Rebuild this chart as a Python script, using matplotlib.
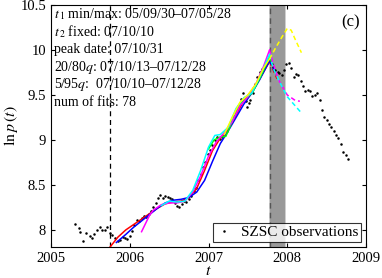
import numpy as np
import matplotlib
matplotlib.use('Agg')
import matplotlib.pyplot as plt

plt.rcParams['font.family'] = ['Liberation Serif', 'DejaVu Serif']
plt.rcParams['mathtext.fontset'] = 'stix'

# SZSC observations (decimal year, ln p)
obs_t = [2005.31, 2005.35, 2005.37, 2005.41, 2005.45, 2005.49, 2005.52, 2005.55, 2005.58, 2005.62,
         2005.65, 2005.68, 2005.71, 2005.75, 2005.78, 2005.81, 2005.85, 2005.88, 2005.91, 2005.94,
         2005.97, 2006.00, 2006.03, 2006.06, 2006.09, 2006.12, 2006.15, 2006.18, 2006.21, 2006.24,
         2006.27, 2006.30, 2006.33, 2006.36, 2006.39, 2006.42, 2006.45, 2006.48, 2006.51, 2006.54,
         2006.57, 2006.60, 2006.63, 2006.66, 2006.69, 2006.72, 2006.75, 2006.78, 2006.81, 2006.84,
         2006.87, 2006.90, 2006.93, 2006.96, 2006.99, 2007.02, 2007.05, 2007.08, 2007.11, 2007.14,
         2007.17, 2007.20, 2007.23, 2007.26, 2007.29, 2007.32, 2007.35, 2007.38, 2007.41, 2007.44,
         2007.47, 2007.49, 2007.51, 2007.53, 2007.56, 2007.59, 2007.62, 2007.65, 2007.68, 2007.71,
         2007.74, 2007.77, 2007.80, 2007.82, 2007.85, 2007.88, 2007.90, 2007.93, 2007.96, 2007.99,
         2008.02, 2008.05, 2008.08, 2008.11, 2008.14, 2008.17, 2008.20, 2008.23, 2008.26, 2008.29,
         2008.32, 2008.35, 2008.38, 2008.41, 2008.44, 2008.47, 2008.50, 2008.53, 2008.56, 2008.59,
         2008.62, 2008.65, 2008.68, 2008.71, 2008.74, 2008.77]
obs_y = [8.07, 8.02, 7.98, 7.88, 7.97, 7.93, 7.91, 7.96, 8.00, 8.03,
         8.00, 8.00, 8.03, 7.97, 7.94, 7.91, 7.88, 7.89, 7.92, 7.91,
         7.90, 7.93, 7.99, 8.06, 8.11, 8.10, 8.13, 8.15, 8.14, 8.18,
         8.21, 8.26, 8.30, 8.36, 8.39, 8.35, 8.38, 8.37, 8.36, 8.34,
         8.30, 8.27, 8.26, 8.29, 8.32, 8.31, 8.34, 8.38, 8.43, 8.47,
         8.55, 8.62, 8.70, 8.76, 8.84, 8.89, 8.94, 9.00, 9.03, 9.01,
         9.03, 9.05, 9.10, 9.16, 9.21, 9.27, 9.32, 9.38, 9.45, 9.52,
         9.43, 9.37, 9.41, 9.44, 9.52, 9.62, 9.70, 9.76, 9.79, 9.82,
         9.86, 9.89, 9.84, 9.81, 9.78, 9.76, 9.74, 9.72, 9.78, 9.84,
         9.86, 9.80, 9.70, 9.73, 9.72, 9.66, 9.60, 9.54, 9.56, 9.54,
         9.49, 9.50, 9.52, 9.44, 9.33, 9.25, 9.22, 9.18, 9.14, 9.10,
         9.06, 9.02, 8.95, 8.87, 8.83, 8.79]

t2 = 2007.775  # 07/10/10
t1_min = 2005.747  # 05/09/30

# fitted curves: (colour, times, values) up to t2, then predicted extension
red_t = [2005.75, 2005.85, 2005.95, 2006.05, 2006.15, 2006.25, 2006.35, 2006.45, 2006.55, 2006.65,
         2006.75, 2006.85, 2006.95, 2007.05, 2007.15, 2007.25, 2007.35, 2007.45, 2007.55, 2007.65, 2007.775]
red_y = [7.81, 7.92, 8.00, 8.06, 8.12, 8.18, 8.24, 8.29, 8.31, 8.32,
         8.36, 8.46, 8.66, 8.88, 9.02, 9.12, 9.28, 9.44, 9.55, 9.68, 9.87]
red_ext_t = [2007.775, 2007.82, 2007.87]
red_ext_y = [9.87, 9.78, 9.68]

blue_t = [2005.83, 2005.95, 2006.05, 2006.15, 2006.25, 2006.35, 2006.45, 2006.55, 2006.65, 2006.75,
          2006.85, 2006.95, 2007.05, 2007.15, 2007.25, 2007.35, 2007.45, 2007.55, 2007.65, 2007.775]
blue_y = [7.86, 7.95, 8.03, 8.10, 8.17, 8.24, 8.30, 8.33, 8.34, 8.36,
          8.42, 8.55, 8.76, 8.96, 9.10, 9.25, 9.40, 9.52, 9.67, 9.88]
blue_ext_t = [2007.775, 2007.82, 2007.86]
blue_ext_y = [9.88, 9.80, 9.72]

mag_t = [2006.15, 2006.20, 2006.25, 2006.30, 2006.40, 2006.50, 2006.60, 2006.70, 2006.80, 2006.90,
         2007.00, 2007.10, 2007.20, 2007.30, 2007.40, 2007.50, 2007.60, 2007.70, 2007.775]
mag_y = [7.98, 8.07, 8.16, 8.22, 8.28, 8.30, 8.30, 8.32, 8.42, 8.60,
         8.82, 8.98, 9.08, 9.20, 9.38, 9.48, 9.62, 9.82, 10.00]
mag_ext_t = [2007.775, 2007.82, 2007.90, 2008.00, 2008.10, 2008.16]
mag_ext_y = [10.00, 9.85, 9.65, 9.50, 9.44, 9.43]

cyan_t = [2006.40, 2006.50, 2006.60, 2006.70, 2006.80, 2006.90, 2007.00, 2007.08, 2007.15, 2007.25,
          2007.35, 2007.45, 2007.55, 2007.65, 2007.775]
cyan_y = [8.27, 8.32, 8.31, 8.32, 8.44, 8.66, 8.92, 9.05, 9.06, 9.14,
          9.35, 9.47, 9.52, 9.70, 9.95]
cyan_ext_t = [2007.775, 2007.82, 2007.90, 2008.00, 2008.08, 2008.18]
cyan_ext_y = [9.95, 9.80, 9.65, 9.48, 9.40, 9.30]

green_t = [2007.00, 2007.07, 2007.14, 2007.22, 2007.30, 2007.40, 2007.48, 2007.56, 2007.66, 2007.775]
green_y = [8.90, 9.00, 9.03, 9.04, 9.20, 9.40, 9.46, 9.53, 9.70, 9.92]
green_ext_t = [2007.775, 2007.82]
green_ext_y = [9.92, 9.82]

yel_t = [2007.20, 2007.30, 2007.40, 2007.50, 2007.60, 2007.70, 2007.775]
yel_y = [9.06, 9.25, 9.42, 9.50, 9.62, 9.80, 9.90]
yel_ext_t = [2007.775, 2007.85, 2007.93, 2008.00, 2008.05, 2008.10, 2008.18]
yel_ext_y = [9.90, 10.02, 10.14, 10.24, 10.22, 10.12, 9.97]

fits = [('red', red_t, red_y, red_ext_t, red_ext_y),
        ('blue', blue_t, blue_y, blue_ext_t, blue_ext_y),
        ('lime', green_t, green_y, green_ext_t, green_ext_y),
        ('magenta', mag_t, mag_y, mag_ext_t, mag_ext_y),
        ('cyan', cyan_t, cyan_y, cyan_ext_t, cyan_ext_y),
        ('yellow', yel_t, yel_y, yel_ext_t, yel_ext_y)]

band_5_95 = (2007.773, 2007.986)
band_20_80 = (2007.781, 2007.975)

fig = plt.figure(figsize=(3.82, 2.78), dpi=100)
ax = fig.add_axes([51/382, 31/278, 315/382, 242/278])

ax.axvspan(*band_5_95, color='#cfcfcf', lw=0, zorder=1)
ax.axvspan(*band_20_80, color='#999999', lw=0, zorder=1)
ax.axvline(t1_min, color='k', ls='--', lw=0.9, dashes=(4, 3), zorder=2)
ax.axvline(t2, color='#555555', ls='--', lw=1.0, dashes=(4, 3), zorder=2)

ax.plot(obs_t, obs_y, 'k.', ms=1.6, zorder=3, label='SZSC observations')
for c, ft, fy, et, ey in fits:
    ax.plot(ft, fy, color=c, lw=1.1, zorder=4)
    ax.plot(et, ey, color=c, lw=1.1, ls='--', dashes=(3, 2), zorder=4)

ax.set_xlim(2005, 2009)
ax.set_ylim(7.81, 10.5)
ax.set_xticks([2005, 2006, 2007, 2008, 2009])
ax.set_yticks([8, 8.5, 9, 9.5, 10, 10.5])
ax.set_yticklabels(['8', '8.5', '9', '9.5', '10', '10.5'])
ax.tick_params(direction='in', top=True, right=True, labelsize=10.5, length=3)
ax.set_xlabel('$t$', fontsize=11.5, labelpad=-1.5)
ax.set_ylabel(r'$\ln p\,(t)$', fontsize=11.5, labelpad=0)

lines = ['$t_{\\,1}$ min/max: 05/09/30\u201307/05/28',
         '$t_{\\,2}$ fixed: 07/10/10',
         'peak date: 07/10/31',
         '20/80$q$: 07/10/13\u201307/12/28',
         '5/95$q$:  07/10/10\u201307/12/28',
         'num of fits: 78']
for i, s in enumerate(lines):
    ax.text(0.008, 0.962 - i * 0.073, s, transform=ax.transAxes, fontsize=10, va='center', ha='left')
ax.text(0.95, 0.93, '(c)', transform=ax.transAxes, fontsize=12, ha='center', va='center')

leg = ax.legend(loc='lower right', fontsize=11, frameon=True, fancybox=False, edgecolor='k',
                borderaxespad=0.3, handlelength=1.0, handletextpad=0.6, borderpad=0.2, markerscale=1)
leg.get_frame().set_linewidth(0.8)
leg.set_zorder(10)

fig.savefig('out.png', dpi=100)
